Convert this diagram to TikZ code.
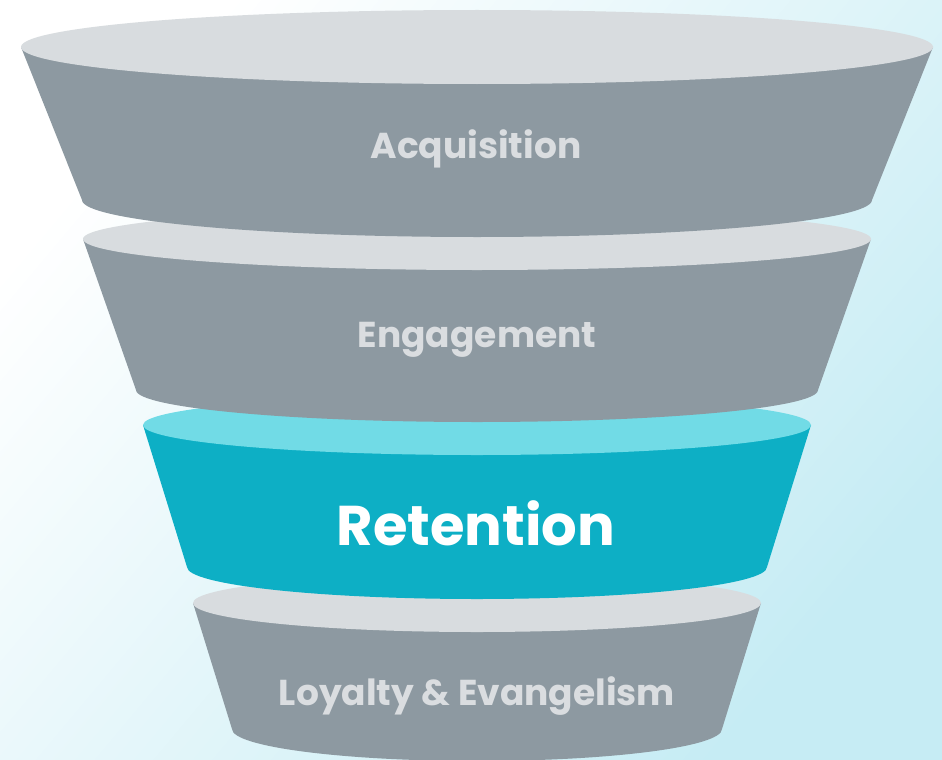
\documentclass[tikz,border=0pt]{standalone}
\usepackage{fontspec}
\setmainfont{Poppins}
\usetikzlibrary{positioning}
\definecolor{sidegray}{RGB}{141,153,161}
\definecolor{topgray}{RGB}{216,220,223}
\definecolor{sidecyan}{RGB}{13,175,197}
\definecolor{topcyan}{RGB}{113,219,230}
\definecolor{labelgray}{RGB}{218,221,224}
\definecolor{bgblue}{RGB}{198,236,244}
\tikzset{
  layer side/.style = {fill=#1},
  layer top/.style  = {fill=#1},
  stage/.style      = {font=\bfseries\fontsize{36}{40}\selectfont, text=labelgray,
                       inner sep=0pt},
  key stage/.style  = {stage, font=\bfseries\fontsize{56}{60}\selectfont, text=white}
}

\begin{document}
\begin{tikzpicture}[x=1pt, y=-1pt]

% background
\useasboundingbox (0,0) rectangle (942,760);
\clip (0,0) rectangle (942,760);
\shade[left color=white, right color=bgblue, shading angle=50] (0,0) rectangle (942,760);

% funnel layers, drawn from the bottom up
\foreach \yt/\rt/\ryt/\yb/\rb/\ryb/\side/\top in {
    603/284/29/729/245/32/sidegray/topgray,
    425/334/30/567/290/32/sidecyan/topcyan,
    239/394/31/390/341/32/sidegray/topgray,
    47/456/37/200/395/37/sidegray/topgray}
{
  \fill[layer side=\side] (477-\rt,\yt) -- (477-\rb,\yb)
     arc[start angle=180, end angle=0, x radius=\rb, y radius=\ryb]
     -- (477+\rt,\yt) -- cycle;
  \fill[layer top=\top] (477,\yt) ellipse[x radius=\rt, y radius=\ryt];
}

% labels
\node[stage] (acq) at (476,149) {Acquisition};
\node[stage] (eng) at (477,340) {Engagement};
\node[key stage] (ret) at (476,523) {Retention};
\node[stage] (loy) at (477,696) {Loyalty \& Evangelism};

\end{tikzpicture}
\end{document}
